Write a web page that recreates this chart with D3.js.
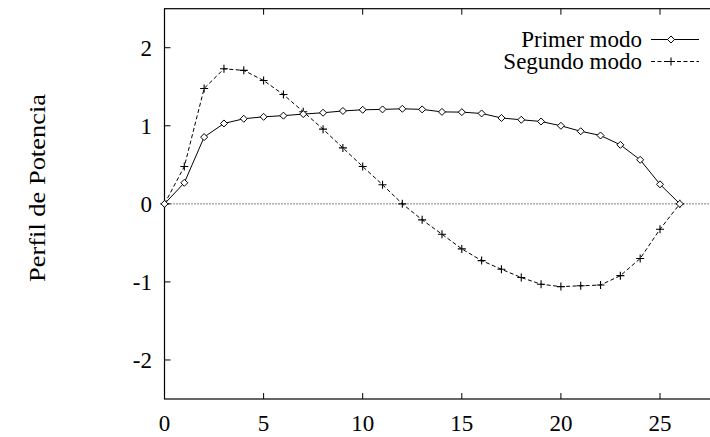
<!DOCTYPE html>
<html><head><meta charset="utf-8">
<script src="https://cdn.jsdelivr.net/npm/d3@7"></script>
<style>body{margin:0;background:#fff}svg{display:block}text{font-family:"Liberation Serif","Times New Roman",serif;fill:#000}</style>
</head><body><svg id="c" width="710" height="437"></svg>
<script>
const xValues = [0,1,2,3,4,5,6,7,8,9,10,11,12,13,14,15,16,17,18,19,20,21,22,23,24,25,26];
const primerModo = [0,0.27,0.855,1.03,1.09,1.115,1.13,1.15,1.167,1.19,1.205,1.21,1.218,1.21,1.178,1.175,1.158,1.10,1.077,1.055,1.0,0.93,0.876,0.756,0.564,0.25,0];
const segundoModo = [0,0.478,1.478,1.73,1.71,1.58,1.40,1.18,0.957,0.717,0.478,0.245,0,-0.205,-0.389,-0.577,-0.727,-0.838,-0.944,-1.03,-1.06,-1.05,-1.04,-0.92,-0.70,-0.325,0];
const seriesNames = ["Primer modo","Segundo modo"];
const xTicks = [0,5,10,15,20,25];
const yTicks = [-2,-1,0,1,2];
const yLabel = "Perfil de Potencia";

const svg = d3.select("#c");
const L = 164.5, T = 8.7, B = 399;
const x = d3.scaleLinear().domain([0,30]).range([L, L + 30*19.82]);
const y = d3.scaleLinear().domain([-2.5,2.5]).range([B, T]);
const R = x(30);
const fs = 23;

// zero line
svg.append("line").attr("x1",x(0)).attr("x2",R).attr("y1",y(0)).attr("y2",y(0))
  .attr("stroke","#000").attr("stroke-width",1).attr("stroke-dasharray","1,2");

// frame
svg.append("rect").attr("x",L).attr("y",T).attr("width",R-L).attr("height",B-T)
  .attr("fill","none").attr("stroke","#000").attr("stroke-width",1.2);

// ticks inward
const tl = 6;
const g = svg.append("g").attr("stroke","#000").attr("stroke-width",1);
xTicks.forEach(t=>{
  if (t===0) return;
  g.append("line").attr("x1",x(t)).attr("x2",x(t)).attr("y1",B).attr("y2",B-tl);
  g.append("line").attr("x1",x(t)).attr("x2",x(t)).attr("y1",T).attr("y2",T+tl);
});
yTicks.forEach(t=>{
  g.append("line").attr("x1",L).attr("x2",L+tl).attr("y1",y(t)).attr("y2",y(t));
});
xTicks.forEach(t=>{
  svg.append("text").attr("x",x(t)).attr("y",431).attr("text-anchor","middle")
    .attr("font-size",fs).text(t);
});
yTicks.forEach(t=>{
  svg.append("text").attr("x",152).attr("y",y(t)).attr("dy","0.34em").attr("text-anchor","end")
    .attr("font-size",fs).text(t);
});
svg.append("text").attr("transform",`translate(45,188) rotate(-90)`)
  .attr("text-anchor","middle").attr("font-size",24)
  .attr("textLength",188).attr("lengthAdjust","spacingAndGlyphs").text(yLabel);

const line = d3.line().x((d,i)=>x(xValues[i])).y(d=>y(d));
function diamond(sel, cx, cy){
  const r=3.5;
  sel.append("path").attr("d",`M${cx},${cy-r}L${cx+r},${cy}L${cx},${cy+r}L${cx-r},${cy}Z`)
    .attr("fill","#fff").attr("stroke","#000").attr("stroke-width",1);
}
function plus(sel, cx, cy){
  const r=4;
  sel.append("path").attr("d",`M${cx-r},${cy}H${cx+r}M${cx},${cy-r}V${cy+r}`)
    .attr("stroke","#000").attr("stroke-width",1.1);
}
svg.append("path").datum(segundoModo).attr("d",line).attr("fill","none")
  .attr("stroke","#000").attr("stroke-width",1).attr("stroke-dasharray","4,2.5");
svg.append("path").datum(primerModo).attr("d",line).attr("fill","none")
  .attr("stroke","#000").attr("stroke-width",1);
const m2 = svg.append("g");
segundoModo.forEach((v,i)=>plus(m2, x(xValues[i]), y(v)));
const m1 = svg.append("g");
primerModo.forEach((v,i)=>diamond(m1, x(xValues[i]), y(v)));

// legend
const ky = [39.5, 61.5];
seriesNames.forEach((n,i)=>{
  svg.append("text").attr("x",642).attr("y",ky[i]).attr("dy","0.33em").attr("text-anchor","end")
    .attr("font-size",fs).text(n);
  svg.append("line").attr("x1",651).attr("x2",699).attr("y1",ky[i]).attr("y2",ky[i])
    .attr("stroke","#000").attr("stroke-width",1).attr("stroke-dasharray", i===0?null:"4,2.5");
  if (i===0) diamond(svg, 671, ky[i]); else plus(svg, 671, ky[i]);
});
</script></body></html>
